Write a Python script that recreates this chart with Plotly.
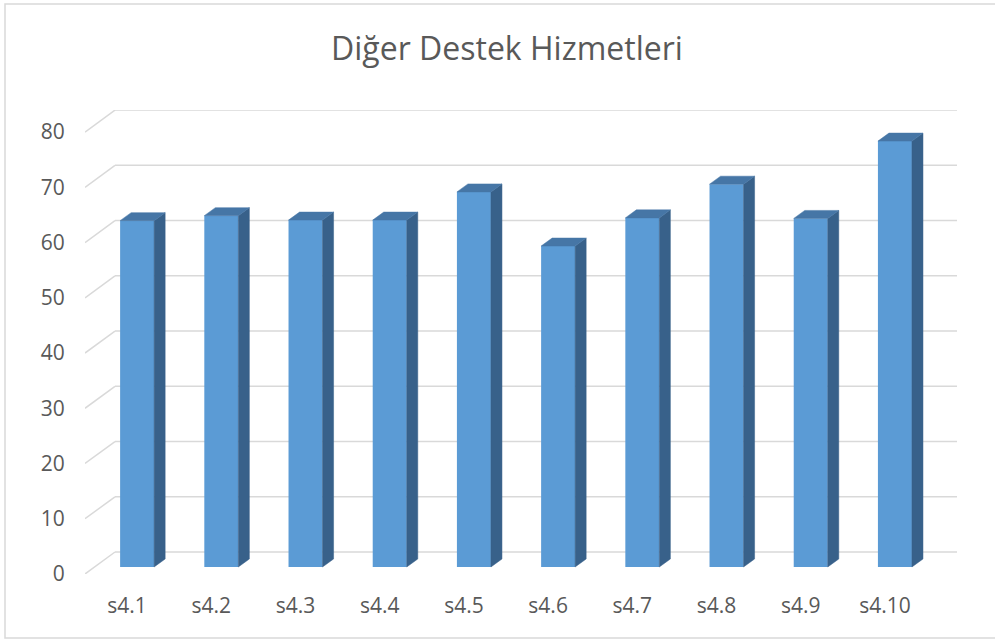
import plotly.graph_objects as go

# data
categories = ["s4.1", "s4.2", "s4.3", "s4.4", "s4.5", "s4.6", "s4.7", "s4.8", "s4.9", "s4.10"]
values = [62.7, 63.6, 62.8, 62.8, 67.9, 58.1, 63.2, 69.3, 63.1, 77.1]
y_ticks = [0, 10, 20, 30, 40, 50, 60, 70, 80]
title = "Diğer Destek Hizmetleri"

# figure geometry (pixels) and fake-3D depth (axis units)
W, H = 995, 640
L, R, T, B = 85, 38, 110, 66
X_RANGE = [0.5, 10.856]
Y_RANGE = [0, 84]
WALL_DX, WALL_DY = 0.356, 3.98      # back wall offset
FACE_DX, FACE_DY = 0.119, 1.27      # bar front face offset
SIDE_DX, SIDE_DY = 0.131, 1.45      # bar depth
BAR_W = 0.404

FRONT = "#5b9bd5"
TOP = "#4676a6"
SIDE = "#38618a"
GRID = "#d9d9d9"
TEXT = "#595959"
FONT = "Open Sans"

pw, ph = W - L - R, H - T - B


def paper_x(px):
    return (px - L) / pw


def paper_y(py):
    return (H - B - py) / ph


xs = list(range(1, len(categories) + 1))

fig = go.Figure()

# front faces
fig.add_trace(go.Bar(
    x=[x + FACE_DX for x in xs], y=values, base=FACE_DY, width=BAR_W,
    marker=dict(color=FRONT, line=dict(width=0)), hoverinfo="skip",
))

# top and side faces
top_x, top_y, side_x, side_y = [], [], [], []
for x, v in zip(xs, values):
    x0 = x + FACE_DX - BAR_W / 2
    x1 = x + FACE_DX + BAR_W / 2
    yt = v + FACE_DY
    top_x += [x0, x1, x1 + SIDE_DX, x0 + SIDE_DX, x0, None]
    top_y += [yt, yt, yt + SIDE_DY, yt + SIDE_DY, yt, None]
    side_x += [x1, x1 + SIDE_DX, x1 + SIDE_DX, x1, x1, None]
    side_y += [FACE_DY, FACE_DY + SIDE_DY, yt + SIDE_DY, yt, FACE_DY, None]

fig.add_trace(go.Scatter(x=side_x, y=side_y, fill="toself", fillcolor=SIDE,
                         mode="lines", line=dict(width=0.5, color=SIDE), hoverinfo="skip"))
fig.add_trace(go.Scatter(x=top_x, y=top_y, fill="toself", fillcolor=TOP,
                         mode="lines", line=dict(width=0.5, color=TOP), hoverinfo="skip"))

# gridlines on back wall + diagonal on the left side wall
shapes = []
for t in y_ticks:
    shapes.append(dict(type="line", xref="x", yref="y", layer="below",
                       x0=X_RANGE[0] + WALL_DX, y0=t + WALL_DY, x1=X_RANGE[1], y1=t + WALL_DY,
                       line=dict(color=GRID, width=1.5)))
    shapes.append(dict(type="line", xref="x", yref="y", layer="below",
                       x0=X_RANGE[0], y0=t, x1=X_RANGE[0] + WALL_DX, y1=t + WALL_DY,
                       line=dict(color=GRID, width=1.5)))

# chart border
shapes.append(dict(type="rect", xref="paper", yref="paper", layer="below",
                   x0=paper_x(5), x1=paper_x(1000), y0=paper_y(638), y1=paper_y(4),
                   line=dict(color=GRID, width=1.5), fillcolor="rgba(0,0,0,0)"))

fig.update_layout(
    width=W, height=H,
    margin=dict(l=L, r=R, t=T, b=B),
    paper_bgcolor="white", plot_bgcolor="white",
    showlegend=False,
    shapes=shapes,
    font=dict(family=FONT, color=TEXT),
    annotations=[dict(text=title, xref="paper", yref="paper",
                      x=paper_x(507), y=paper_y(47), xanchor="center", yanchor="middle",
                      showarrow=False, font=dict(size=32, color=TEXT, family=FONT))],
)
fig.update_xaxes(range=X_RANGE, tickvals=xs, ticktext=categories,
                 showgrid=False, zeroline=False, showline=False,
                 ticks="outside", ticklen=13, tickcolor="rgba(0,0,0,0)",
                 tickfont=dict(size=21, color=TEXT))
fig.update_yaxes(range=Y_RANGE, tickvals=y_ticks,
                 showgrid=False, zeroline=False, showline=False,
                 ticks="outside", ticklen=15, tickcolor="rgba(0,0,0,0)",
                 tickfont=dict(size=21, color=TEXT))

# page body has an 8px default margin; drop it so the chart sits at the origin
fig.write_html("out.html", config={"displayModeBar": False},
               post_script="document.body.style.margin = '0';")
